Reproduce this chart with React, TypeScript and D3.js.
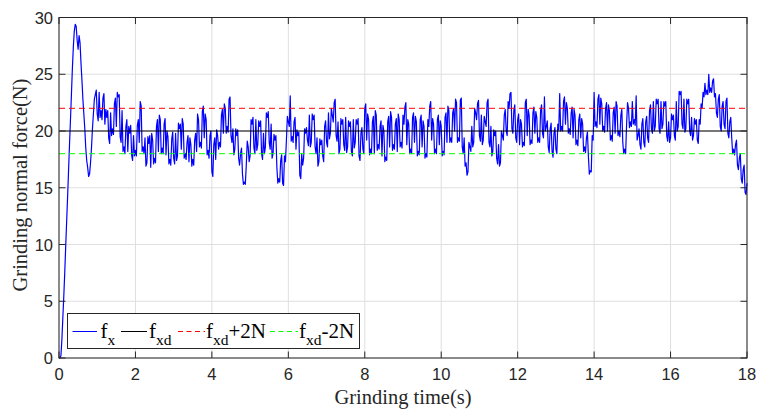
import React from "react";
import * as d3 from "d3";

// samples at t = k * 0.05 s
const fx: number[] = [
  0, 0.2, 3.5, 7.5, 12, 16.5, 21, 25.5, 28.8, 29.2, 27.2, 27.8, 24.5, 21.5, 18.5, 16.8, 16.2, 18.5, 21.5, 23.2,
  21.5, 23.4, 21.8, 22.9, 20.6, 21.2, 19.4, 21.6, 20.2, 22.4, 20.4, 23.0, 19.5, 21.8, 18.6, 20.4, 18.2, 19.8, 17.9, 19.6,
  18.3, 20.5, 19.0, 22.2, 18.6, 19.4, 17.2, 18.9, 16.8, 19.2, 17.6, 20.4, 18.2, 21.0, 18.5, 20.6, 17.9, 19.5, 17.5, 19.3,
  17.6, 19.8, 17.8, 20.2, 18.4, 20.6, 18.0, 19.0, 17.3, 18.8, 17.5, 19.2, 18.2, 21.0, 19.0, 21.7, 19.4, 21.0, 18.3, 19.6,
  16.4, 18.8, 17.5, 19.6, 19.0, 21.4, 19.8, 22.0, 20.4, 22.8, 19.6, 20.2, 18.4, 19.6, 17.6, 18.0, 16.2, 15.5, 17.0, 18.6,
  17.8, 20.6, 18.5, 21.0, 18.8, 20.4, 18.0, 19.8, 18.6, 21.2, 19.0, 20.6, 18.0, 19.2, 16.8, 15.8, 17.4, 15.4, 17.8, 19.2,
  20.8, 23.1, 19.5, 20.8, 18.4, 19.6, 16.1, 18.0, 17.6, 19.8, 19.2, 21.4, 19.0, 21.0, 18.6, 19.4, 17.3, 18.8, 17.8, 20.4,
  19.0, 21.6, 19.8, 21.4, 22.5, 19.6, 20.8, 18.4, 20.6, 18.8, 21.2, 18.6, 20.4, 18.2, 21.0, 19.0, 20.6, 17.8, 19.8, 18.4,
  22.0, 19.2, 21.0, 18.4, 20.8, 18.0, 21.4, 18.8, 20.4, 17.8, 20.0, 17.7, 20.8, 18.6, 21.2, 18.8, 20.6, 18.2, 21.0, 19.0,
  21.4, 22.1, 18.8, 20.6, 18.4, 21.2, 19.0, 20.8, 18.2, 21.0, 18.6, 20.4, 18.0, 21.0, 22.2, 19.2, 20.6, 18.4, 21.0, 18.8,
  20.4, 18.2, 21.2, 19.0, 21.8, 19.4, 21.6, 20.0, 22.5, 19.4, 22.7, 18.6, 19.4, 17.2, 16.4, 18.6, 20.4, 19.0, 21.6, 22.4,
  19.6, 21.4, 19.2, 20.8, 22.5, 19.0, 20.4, 18.2, 19.6, 17.6, 18.8, 17.2, 19.6, 21.4, 20.0, 22.6, 23.3, 20.2, 21.8, 19.4,
  21.0, 18.8, 20.6, 19.0, 22.5, 19.6, 21.4, 19.2, 21.6, 19.8, 21.2, 19.4, 21.8, 19.8, 23.0, 20.4, 18.6, 20.2, 18.2, 19.8,
  18.4, 20.6, 23.3, 20.4, 22.6, 20.6, 22.0, 20.2, 21.6, 19.4, 21.4, 19.2, 21.0, 19.4, 20.6, 18.6, 19.4, 17.8, 16.5, 19.6,
  23.4, 20.8, 22.8, 20.6, 22.4, 20.4, 22.0, 20.0, 21.8, 19.6, 21.6, 19.8, 22.2, 20.0, 21.4, 19.0, 18.4, 20.6, 22.0, 20.8,
  22.6, 21.0, 23.1, 19.6, 18.8, 20.6, 19.0, 20.8, 19.4, 21.8, 20.2, 22.6, 20.4, 22.4, 20.2, 22.6, 20.6, 22.2, 19.6, 20.8,
  19.4, 21.0, 19.6, 22.6, 20.4, 23.2, 20.6, 22.8, 20.2, 22.4, 20.0, 21.2, 19.6, 20.6, 19.2, 21.0, 22.4, 23.4, 24.2, 23.6,
  25.0, 23.8, 24.4, 23.0, 21.6, 22.8, 20.4, 22.2, 20.6, 22.6, 19.8, 20.8, 19.4, 18.4, 18.8, 17.0, 17.6, 15.8, 16.6, 14.6,
  15.4,
];

// samples at t = k * 0.05 + 0.025 s
const fxMid: number[] = [
  0, 1.6, 5.4, 9.8, 14.2, 18.8, 23.2, 27.4, 29.4, 28.0, 28.4, 26.0, 22.8, 20.2, 17.4, 16.0, 17.2, 20.2, 22.8, 23.6,
  20.9, 21.2, 21.0, 23.3, 21.9, 21.8, 18.9, 19.6, 19.7, 22.9, 23.4, 23.2, 19.0, 18.2, 18.0, 21.0, 20.4, 20.5, 17.4, 17.8,
  17.8, 21.0, 22.6, 18.2, 18.0, 16.9, 19.5, 19.6, 19.8, 17.1, 17.2, 21.0, 21.4, 18.0, 18.0, 21.1, 20.0, 17.1, 17.0, 19.9,
  17.1, 17.4, 20.7, 20.6, 21.1, 17.6, 17.5, 19.6, 19.4, 16.9, 17.0, 19.8, 21.5, 18.6, 18.5, 22.2, 21.5, 17.9, 17.6, 20.0,
  16.0, 19.4, 20.1, 18.4, 18.6, 21.9, 22.4, 19.8, 19.9, 23.0, 19.0, 17.9, 20.2, 20.1, 17.0, 18.5, 15.3, 15.3, 19.1, 17.3,
  21.0, 21.2, 18.0, 18.3, 20.9, 20.9, 17.5, 18.0, 21.6, 21.7, 18.4, 17.6, 19.7, 19.6, 15.4, 15.5, 17.9, 15.2, 17.3, 21.3,
  20.4, 19.1, 19.0, 21.2, 20.1, 19.9, 15.8, 17.0, 20.2, 20.3, 18.7, 18.6, 21.5, 21.4, 18.0, 16.9, 19.3, 19.2, 17.3, 20.9,
  18.6, 19.3, 22.0, 20.8, 22.8, 19.1, 18.0, 21.1, 21.0, 18.3, 18.1, 20.9, 20.8, 17.8, 18.5, 21.0, 21.1, 17.4, 20.3, 18.0,
  22.4, 21.5, 17.9, 18.0, 21.3, 21.8, 18.3, 18.4, 20.9, 20.5, 17.3, 17.4, 21.3, 21.7, 18.3, 18.4, 21.1, 21.5, 18.6, 18.5,
  20.6, 22.5, 21.0, 18.0, 18.0, 21.6, 21.3, 17.8, 17.9, 21.4, 20.9, 17.6, 17.7, 20.4, 22.6, 21.1, 18.0, 18.0, 21.4, 20.9,
  17.8, 17.9, 21.6, 22.2, 19.0, 19.0, 22.0, 22.8, 19.0, 19.1, 22.9, 18.0, 16.9, 16.1, 19.0, 18.2, 18.6, 22.0, 21.0, 22.7,
  19.1, 18.8, 21.3, 20.4, 22.8, 18.6, 17.8, 20.1, 20.0, 17.1, 16.9, 20.0, 19.2, 21.9, 19.6, 22.0, 23.4, 19.8, 22.3, 19.0,
  21.5, 21.0, 18.6, 18.7, 22.8, 21.9, 18.8, 18.9, 22.1, 21.7, 19.0, 19.0, 22.3, 19.4, 20.0, 20.9, 18.1, 20.7, 17.7, 20.3,
  18.0, 20.1, 20.0, 20.0, 23.0, 22.5, 19.8, 19.7, 22.1, 21.9, 18.8, 18.7, 21.5, 21.1, 18.2, 18.1, 19.9, 16.2, 16.4, 19.2,
  20.4, 20.3, 23.2, 22.9, 20.0, 19.9, 22.5, 22.3, 19.2, 19.1, 22.1, 22.6, 19.6, 19.5, 21.9, 18.0, 18.0, 22.5, 20.3, 20.4,
  20.6, 20.5, 19.2, 20.2, 18.4, 21.1, 18.6, 21.3, 19.0, 22.3, 19.8, 20.0, 22.8, 22.8, 19.8, 20.2, 22.6, 22.6, 19.1, 19.0,
  21.5, 21.4, 19.2, 20.0, 23.5, 23.5, 20.2, 19.9, 22.8, 22.8, 19.6, 19.2, 21.1, 21.0, 18.9, 20.6, 22.0, 23.0, 23.2, 23.2,
  23.4, 23.4, 24.6, 23.3, 21.2, 23.2, 20.0, 22.6, 20.2, 22.9, 19.4, 21.2, 18.0, 17.9, 19.2, 16.6, 18.0, 15.4, 17.0, 14.4,
];

const DT = 0.05;
const fxd = 20;
const upper = 22;
const lower = 18;
const xTicks = [0, 2, 4, 6, 8, 10, 12, 14, 16, 18];
const yTicks = [0, 5, 10, 15, 20, 25, 30];

const W = 758;
const H = 410;
const L = 59;
const R = 747;
const T = 17.5;
const B = 358;

export default function App() {
  const x = d3.scaleLinear().domain([0, 18]).range([L, R]);
  const y = d3.scaleLinear().domain([0, 30]).range([B, T]);

  const series: [number, number][] = [];
  fx.forEach((v, i) => {
    series.push([i * DT, v]);
    if (i < fxMid.length) series.push([i * DT + DT / 2, fxMid[i]]);
  });

  const line = d3
    .line<[number, number]>()
    .x((d) => x(d[0]))
    .y((d) => y(d[1]));
  const axisColor = "#262626";
  const sans = "'Liberation Sans', Arial, sans-serif";
  const serif = "'Liberation Serif', 'Times New Roman', serif";
  const tickLen = 6.5;

  const legendY = 331.5;
  const legendItems = [
    { x0: 72.5, x1: 97, color: "#0000ff", dash: "", sub: "x", suffix: "", tx: 100.5 },
    { x0: 121, x1: 147, color: "#000000", dash: "", sub: "xd", suffix: "", tx: 149 },
    { x0: 178, x1: 205, color: "#ff0000", dash: "5,3.5", sub: "xd", suffix: "+2N", tx: 206 },
    { x0: 270, x1: 298, color: "#00ff00", dash: "5,3.5", sub: "xd", suffix: "-2N", tx: 299 },
  ];

  return (
    <svg
      width={W}
      height={H}
      style={{ position: "absolute", left: 0, top: 0, background: "#fff" }}
    >
      <rect x={0} y={0} width={W} height={H} fill="#fff" />
      {xTicks.map((t) => (
        <line key={"gx" + t} x1={x(t)} x2={x(t)} y1={T} y2={B} stroke="#dfdfdf" strokeWidth={1} />
      ))}
      {yTicks.map((t) => (
        <line key={"gy" + t} x1={L} x2={R} y1={y(t)} y2={y(t)} stroke="#dfdfdf" strokeWidth={1} />
      ))}
      <path d={line(series) || ""} fill="none" stroke="#0000ff" strokeWidth={1.2} strokeLinejoin="round" />
      <line x1={L} x2={R} y1={y(fxd)} y2={y(fxd)} stroke="#000" strokeWidth={1} />
      <line x1={L} x2={R} y1={y(upper)} y2={y(upper)} stroke="#ff0000" strokeWidth={1} strokeDasharray="6,4" />
      <line x1={L} x2={R} y1={y(lower)} y2={y(lower)} stroke="#00ff00" strokeWidth={1} strokeDasharray="6,4" />
      <rect x={L} y={T} width={R - L} height={B - T} fill="none" stroke={axisColor} strokeWidth={1} />
      {xTicks.map((t) => (
        <g key={"tx" + t}>
          <line x1={x(t)} x2={x(t)} y1={B} y2={B - tickLen} stroke={axisColor} />
          <line x1={x(t)} x2={x(t)} y1={T} y2={T + tickLen} stroke={axisColor} />
          <text x={x(t)} y={380} textAnchor="middle" fontFamily={sans} fontSize={16.5} fill={axisColor}>
            {t}
          </text>
        </g>
      ))}
      {yTicks.map((t) => (
        <g key={"ty" + t}>
          <line x1={L} x2={L + tickLen} y1={y(t)} y2={y(t)} stroke={axisColor} />
          <line x1={R} x2={R - tickLen} y1={y(t)} y2={y(t)} stroke={axisColor} />
          <text x={53} y={y(t) + 6} textAnchor="end" fontFamily={sans} fontSize={16.5} fill={axisColor}>
            {t}
          </text>
        </g>
      ))}
      <text x={(L + R) / 2} y={404} textAnchor="middle" fontFamily={serif} fontSize={20.5} fill={axisColor}>
        Grinding time(s)
      </text>
      <text
        transform={`translate(27,185) rotate(-90)`}
        textAnchor="middle"
        fontFamily={serif}
        fontSize={20.5}
        fill={axisColor}
      >
        Grinding normal force(N)
      </text>
      <rect x={67.5} y={313.5} width={292} height={35} fill="#fff" stroke={axisColor} strokeWidth={1} />
      {legendItems.map((it, i) => (
        <g key={"lg" + i}>
          <line
            x1={it.x0}
            x2={it.x1}
            y1={legendY}
            y2={legendY}
            stroke={it.color}
            strokeWidth={1}
            strokeDasharray={it.dash || undefined}
          />
          <text x={it.tx} y={legendY + 6} fontFamily={serif} fontSize={21} fill="#000">
            f
            <tspan fontSize={15.5} dy={7.5}>
              {it.sub}
            </tspan>
            {it.suffix ? <tspan dy={-7.5}>{it.suffix}</tspan> : null}
          </text>
        </g>
      ))}
    </svg>
  );
}
